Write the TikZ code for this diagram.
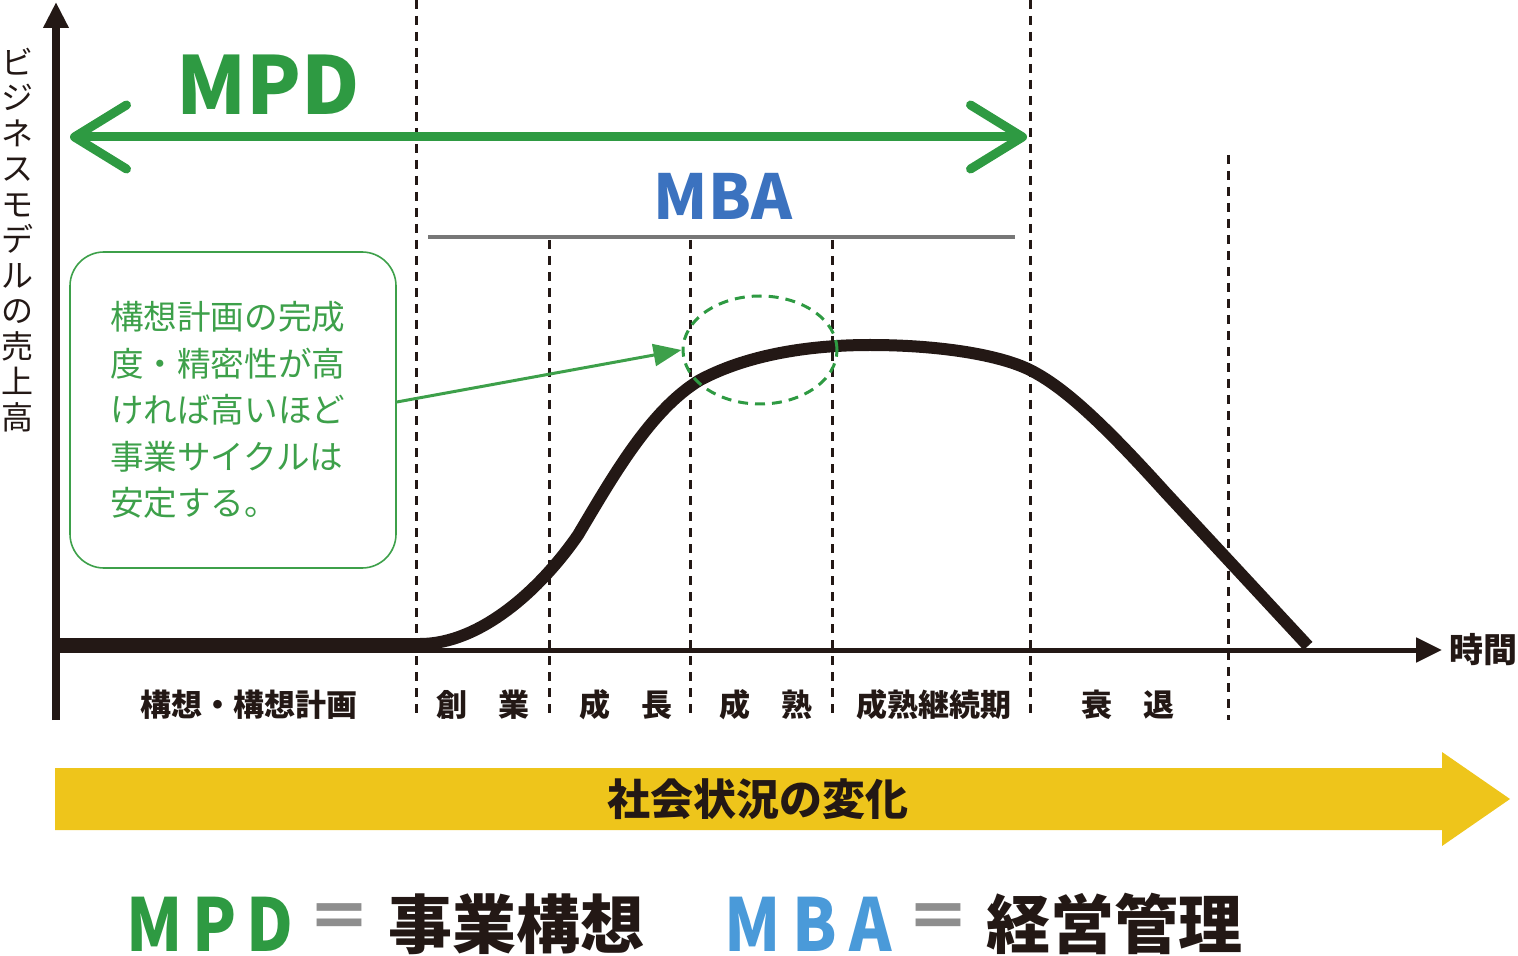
\documentclass[tikz,border=0pt]{standalone}
\usepackage{fontspec}
\setmainfont{Noto Sans CJK JP}
\newfontfamily\keyfont[FakeStretch=0.88]{Noto Sans CJK JP}
\usetikzlibrary{arrows.meta, shapes.geometric}

\definecolor{mpdgreen}{HTML}{2E9A42}
\definecolor{boxgreen}{HTML}{3DA04A}
\definecolor{mbablue}{HTML}{3B72BF}
\definecolor{mbalight}{HTML}{4A9AD9}
\definecolor{ink}{HTML}{231815}
\definecolor{social}{HTML}{EEC51B}
\definecolor{eqgray}{HTML}{8E8E8E}

\tikzset{
  phase/.style={ink, line width=1.5pt, dash pattern=on 4.5pt off 3.5pt},
  phaselabel/.style={font=\fontsize{15.5}{18}\selectfont\bfseries, text=ink, inner sep=0},
  keytext/.style={font=\keyfont\fontsize{36.5}{36.5}\selectfont\bfseries, inner sep=0},
  keyjp/.style={font=\fontsize{32}{32}\selectfont\bfseries, inner sep=0},
}

\begin{document}
\begin{tikzpicture}[x=0.5pt, y=-0.5pt]
            \useasboundingbox (0,0) rectangle (1518,956);

            % phase borders
            \foreach \x/\top in {416/0, 549/240, 690/240, 832/240, 1030/0, 1228/155}
                \draw[phase] (\x,\top) -- (\x,720);

            % axes
            \coordinate (o) at (56,720);
            \coordinate (ytop) at (56,2);
            \coordinate (xl) at (56,650);
            \coordinate (xr) at (1442,650);
            \draw[ink, line width=4pt, -{Triangle[length=13pt,width=12pt]}] (o) -- (ytop);
            \draw[ink, line width=2.5pt, -{Triangle[length=13pt,width=12pt]}] (xl) -- (xr);
            \node[ink, align=center, inner sep=0, font=\fontsize{16}{17.75}\selectfont] (ylabel) at (18,240)
                {ビ\\ジ\\ネ\\ス\\モ\\デ\\ル\\の\\売\\上\\高};
            \node[ink, anchor=west, inner sep=0, font=\fontsize{17}{17}\selectfont\bfseries] (time) at (1449,650) {時間};

            % sales curve
            \draw[ink, line width=6pt, line join=round]
                (56,644) -- (420,644)
                .. controls (480,644) and (540,590) .. (578,535)
                .. controls (612,478) and (650,410) .. (700,380)
                .. controls (745,356) and (805,345) .. (870,345)
                .. controls (940,345) and (1000,355) .. (1030,370)
                .. controls (1062,386) and (1100,420) .. (1165,492)
                -- (1308,646);

            % MPD
            \coordinate (mpdl) at (70,137);
            \coordinate (mpdr) at (1027,137);
            \draw[mpdgreen, line width=4.5pt,
                {Straight Barb[length=26pt,width=32pt,round]}-{Straight Barb[length=26pt,width=32pt,round]}] (mpdl) -- (mpdr);
            \node[text=mpdgreen, font=\fontsize{40}{40}\selectfont\bfseries] (mpd) at (268,85) {MPD};

            % MBA
            \draw[color={rgb,255:red,119;green,119;blue,119}, line width=2pt] (428,237) -- (1015,237);
            \node[text=mbablue, font=\fontsize{31}{31}\selectfont\bfseries] (mba) at (723,196) {MBA};

            % note
            \node[draw=boxgreen, line width=0.8pt, rounded corners=17pt, minimum width=163pt, minimum height=158pt,
                text width=123pt, inner xsep=0pt, align=left, text=boxgreen,
                font=\fontsize{16.8}{23.25}\selectfont] (note) at (233,410)
                {構想計画の完成\\度・精密性が高\\ければ高いほど\\事業サイクルは\\安定する。};
            \node[ellipse, draw=mpdgreen, line width=1.5pt, dash pattern=on 5pt off 3.5pt,
                minimum width=77pt, minimum height=54pt] (peak) at (760,350) {};
            \draw[boxgreen, line width=1.5pt, -{Triangle[length=14pt,width=11pt]}] ([yshift=4pt]note.east) -- (peak.west);

            % phase labels
            \foreach \x/\t [count=\i] in {249/構想・構想計画, 483/創　業, 626/成　長, 766/成　熟, 934/成熟継続期, 1128/衰　退}
                \node[phaselabel] (ph\i) at (\x,705) {\t};

            % social change
            \fill[social] (55,768) -- (1442,768) -- (1442,752) -- (1510,799) -- (1442,846) -- (1442,830) -- (55,830) -- cycle;
            \node[text=ink, font=\fontsize{21.5}{22}\selectfont\bfseries] (society) at (758,799) {社会状況の変化};

            % key
            \node[keytext, text=mpdgreen] (mpdkey) at (210,924) {M\kern5pt P\kern5pt D};
            \node[keyjp, text=eqgray] (eq1) at (339,922) {＝};
            \node[keyjp, text=ink] (biz) at (516,924) {事業構想};
            \node[keytext, text=mbalight] (mbakey) at (808,924) {M\kern6pt B\kern6pt A};
            \node[keyjp, text=eqgray] (eq2) at (938,922) {＝};
            \node[keyjp, text=ink] (mgmt) at (1114,924) {経営管理};
        \end{tikzpicture}
\end{document}
